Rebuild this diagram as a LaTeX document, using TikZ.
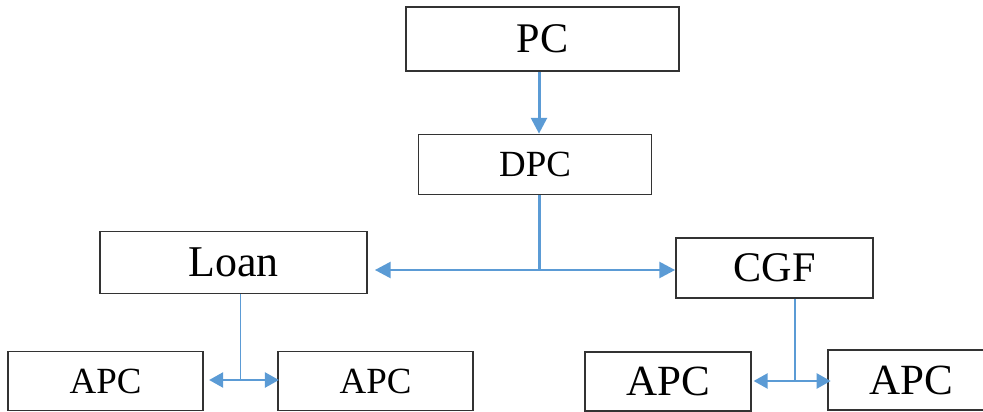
\documentclass[tikz,border=0pt]{standalone}
\usepackage{fontspec}
\setmainfont{Liberation Serif}
\usepackage{xcolor}
\usepackage{tikz}
\usetikzlibrary{arrows.meta, positioning, calc}

\definecolor{linkblue}{RGB}{91,155,213}

\begin{document}
\begin{tikzpicture}[
  x=0.02cm, y=-0.02cm,
  % ---- Box styles (plain rectangles, sized per level) ----
  box/.style={draw=black!80, rectangle, line width=0.95pt,
    align=center, inner sep=0pt, fill=white},
  top/.style ={box, minimum width=5.46cm, minimum height=1.28cm,
    font=\fontsize{24}{28}\selectfont},
  mid/.style ={box, minimum width=4.66cm, minimum height=1.2cm,
    font=\fontsize{21}{25}\selectfont},
  branch/.style={box, minimum height=1.24cm,
    font=\fontsize{25}{29}\selectfont},
  leaf/.style={box, minimum height=1.18cm,
    font=\fontsize{21}{24}\selectfont},
  bigleaf/.style={leaf, font=\fontsize{24.5}{28}\selectfont},
  % ---- Connector styles ----
  link/.style ={-{Triangle[length=9pt, width=9pt]}, linkblue, line width=1.7pt},
  stem/.style ={linkblue, line width=0.9pt},
  sublink/.style={-{Triangle[length=8pt, width=8.5pt]}, linkblue, line width=1.5pt},
]
\useasboundingbox (0,0) rectangle (983,412);

% ---- Boxes ----
\node[top]  (pc)  at (542.5,39)  {PC};
\node[mid]  (dpc) at (535,164.5) {DPC};
\node[branch, minimum width=5.34cm] (loan) at (233.5,262.5) {Loan};
\node[branch, minimum width=3.94cm, minimum height=1.2cm,
  font=\fontsize{24}{28}\selectfont] (cgf) at (774.5,268) {CGF};

\node[leaf, minimum width=3.9cm]  (apcA) at (105.5,381) {APC};
\node[leaf, minimum width=3.9cm]  (apcB) at (375.5,381) {APC};
\node[bigleaf, minimum width=3.32cm] (apcC) at (668,381.5) {APC};
\node[bigleaf, minimum width=3.34cm, minimum height=1.2cm]
  (apcD) at (911.5,380) {APC};

% ---- Junction points ----
\coordinate (trunk) at (539,270);
\coordinate (loanfork) at (240.5,380);
\coordinate (cgffork) at (795,381);

% ---- PC -> DPC ----
\draw[link] (pc.south -| trunk) -- (dpc.north -| trunk);

% ---- DPC -> Loan / CGF ----
\draw[stem, line width=1.7pt] (dpc.south -| trunk) -- (trunk);
\draw[link, shorten >=4pt] (trunk) -- (trunk -| loan.east);
\draw[link] (trunk) -- (trunk -| cgf.west);

% ---- Loan -> APC pair ----
\draw[stem] (loan.south -| loanfork) -- (loanfork);
\draw[sublink, shorten >=3pt] (loanfork) -- (loanfork -| apcA.east);
\draw[sublink, shorten >=-1pt] (loanfork) -- (loanfork -| apcB.west);

% ---- CGF -> APC pair ----
\draw[stem] (cgf.south -| cgffork) -- (cgffork);
\draw[sublink, shorten >=1pt] (cgffork) -- (cgffork -| apcC.east);
\draw[sublink, shorten >=-2pt] (cgffork) -- (cgffork -| apcD.west);
\end{tikzpicture}
\end{document}
